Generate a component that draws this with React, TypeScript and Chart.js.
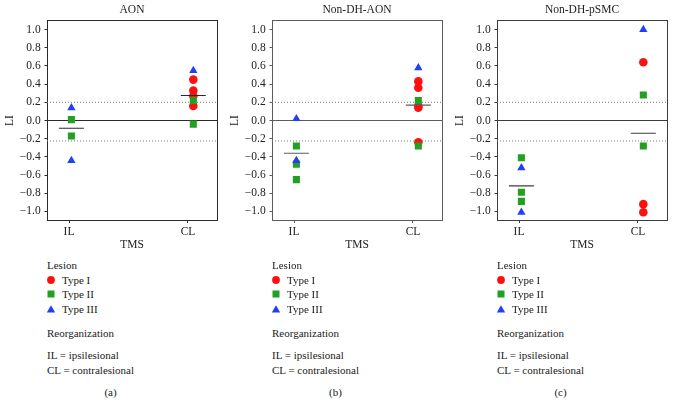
import React, { useEffect, useRef } from "react";
import { Chart, registerables } from "chart.js";

Chart.register(...registerables);

// ---------- data ----------
const panelTitles = ["AON", "Non-DH-AON", "Non-DH-pSMC"];
const panelCaptions = ["(a)", "(b)", "(c)"];
const categories = ["IL", "CL"];
const yTickValues = [-1.0, -0.8, -0.6, -0.4, -0.2, 0.0, 0.2, 0.4, 0.6, 0.8, 1.0];
const yAxisTitle = "LI";
const xAxisTitle = "TMS";
const legendTitle = "Lesion";
const typeLabels = ["Type I", "Type II", "Type III"];
const reorgTitle = "Reorganization";
const abbreviations = ["IL = ipsilesional", "CL = contralesional"];

const zeroLevel = 0;
const thresholdLevels = [0.2, -0.225];

// each: [IL values, CL values]
const aonTypeI: number[][] = [[], [0.45, 0.33, 0.27, 0.16]];
const aonTypeII: number[][] = [[0.01, -0.17], [0.22, -0.04]];
const aonTypeIII: number[][] = [[0.14, -0.44], [0.55]];
const aonMean = [-0.085, 0.275];

const dhAonTypeI: number[][] = [[], [0.43, 0.36, 0.16, 0.14, -0.24]];
const dhAonTypeII: number[][] = [[-0.28, -0.48, -0.65], [0.22, -0.28]];
const dhAonTypeIII: number[][] = [[0.02, -0.44], [0.58]];
const dhAonMean = [-0.36, 0.17];

const pSmcTypeI: number[][] = [[], [0.64, -0.92, -1.01]];
const pSmcTypeII: number[][] = [[-0.41, -0.79, -0.89], [0.28, -0.28]];
const pSmcTypeIII: number[][] = [[-0.52, -1.01], [1.0]];
const pSmcMean = [-0.72, -0.14];

const panelTypes = [
  [aonTypeI, aonTypeII, aonTypeIII],
  [dhAonTypeI, dhAonTypeII, dhAonTypeIII],
  [pSmcTypeI, pSmcTypeII, pSmcTypeIII],
];
const panelMeans = [aonMean, dhAonMean, pSmcMean];

// ---------- styles / layout ----------
const FONT_FAMILY = "'Liberation Serif', 'Times New Roman', serif";
const TEXT = "#222222";
const INK = ["#2a2a2a", "#5c5c5c", "#3c3c3c"];
const TYPE_COLORS = ["#ff1010", "#22a022", "#2040f8"];
const TYPE_STYLES = ["circle", "rect", "triangle"];
const TYPE_RADII = [4.3, 5, 4.8];

const PANEL_LEFT = [0, 225, 450];
const AXIS_W = 47;
const FRAME_W = 170;
const CANVAS_W = AXIS_W * 2 + FRAME_W;
const CANVAS_H = 256;
const CHART_BOTTOM = 220.5;
const X_MIN = -0.185;
const X_MAX = 1.244;
const Y_MIN = -1.1;
const Y_MAX = 1.1;
const CAT_OFFSET = [0.02, 0.045];
const MEAN_HALF = 0.105;

const fmt = (v: number) => (v < 0 ? "\u2212" : "") + Math.abs(v).toFixed(1);

const framePlugin = {
  id: "frame",
  beforeDatasetsDraw(chart: any, _args: any, opts: any) {
    const { ctx, chartArea } = chart;
    const l = Math.floor(chartArea.left) + 0.5;
    const r = Math.floor(chartArea.right) + 0.5;
    const t = Math.floor(chartArea.top) + 0.5;
    const b = Math.floor(chartArea.bottom) + 0.5;
    ctx.save();
    ctx.strokeStyle = opts.color || "#333";
    ctx.lineWidth = 1;
    ctx.strokeRect(l, t, r - l, b - t);
    ctx.restore();
  },
};

function PanelChart({ idx }: { idx: number }) {
  const ref = useRef<HTMLCanvasElement>(null);
  useEffect(() => {
    const ink = INK[idx];
    const font = { family: FONT_FAMILY, size: 11.5, weight: "normal" as const };
    const datasets: any[] = [];
    // mean lines (on top)
    panelMeans[idx].forEach((m, ci) => {
      const cx = ci + CAT_OFFSET[ci];
      datasets.push({
        type: "scatter",
        data: [
          { x: cx - MEAN_HALF, y: m },
          { x: cx + MEAN_HALF, y: m },
        ],
        showLine: true,
        borderColor: ink,
        borderWidth: 1.2,
        pointRadius: 0,
        order: 0,
      });
    });
    // points
    panelTypes[idx].forEach((vals, ti) => {
      const data: any[] = [];
      vals.forEach((list, ci) => {
        list.forEach((v) => data.push({ x: ci + CAT_OFFSET[ci], y: v }));
      });
      datasets.push({
        type: "scatter",
        label: typeLabels[ti],
        data,
        pointStyle: TYPE_STYLES[ti],
        pointRadius: TYPE_RADII[ti],
        pointBackgroundColor: TYPE_COLORS[ti],
        pointBorderColor: TYPE_COLORS[ti],
        pointBorderWidth: 0,
        showLine: false,
        order: 3 - ti,
      });
    });
    // reference lines
    datasets.push({
      type: "scatter",
      data: [
        { x: X_MIN, y: zeroLevel },
        { x: X_MAX, y: zeroLevel },
      ],
      showLine: true,
      borderColor: ink,
      borderWidth: 1.2,
      pointRadius: 0,
      order: 10,
    });
    thresholdLevels.forEach((lv) => {
      datasets.push({
        type: "scatter",
        data: [
          { x: X_MIN, y: lv },
          { x: X_MAX, y: lv },
        ],
        showLine: true,
        borderColor: "#7a7a7a",
        borderWidth: 1,
        borderDash: [1, 2],
        pointRadius: 0,
        order: 11,
      });
    });

    const chart = new Chart(ref.current as HTMLCanvasElement, {
      type: "scatter",
      data: { datasets },
      plugins: [framePlugin],
      options: {
        animation: false,
        responsive: false,
        devicePixelRatio: 1,
        events: [],
        layout: { padding: 0 },
        plugins: {
          legend: { display: false },
          tooltip: { enabled: false },
          title: {
            display: true,
            text: panelTitles[idx],
            font,
            color: TEXT,
            padding: { top: 3.4, bottom: 3.3 },
          },
          // @ts-ignore
          frame: { color: ink },
        },
        scales: {
          x: {
            type: "linear",
            position: "bottom",
            min: X_MIN,
            max: X_MAX,
            afterBuildTicks: (s: any) => {
              s.ticks = categories.map((_, i) => ({ value: i }));
            },
            afterFit: (s: any) => {
              s.height = CANVAS_H - CHART_BOTTOM;
            },
            ticks: {
              callback: (v: any) => categories[Math.round(v)] ?? "",
              font,
              color: TEXT,
              padding: 2,
              maxRotation: 0,
              autoSkip: false,
            },
            grid: {
              display: true,
              drawOnChartArea: false,
              drawTicks: true,
              tickLength: 2.5,
              color: ink,
            },
            border: { display: false },
            title: {
              display: true,
              text: xAxisTitle,
              font,
              color: TEXT,
              padding: { top: 0, bottom: 4.1 },
            },
          },
          y: {
            type: "linear",
            position: "left",
            min: Y_MIN,
            max: Y_MAX,
            afterBuildTicks: (s: any) => {
              s.ticks = yTickValues.map((v) => ({ value: v }));
            },
            afterFit: (s: any) => {
              s.width = AXIS_W;
            },
            ticks: {
              callback: (v: any) => fmt(Number(v)),
              font,
              color: TEXT,
              padding: 3.8,
            },
            grid: {
              display: true,
              drawOnChartArea: false,
              drawTicks: true,
              tickLength: 2.5,
              color: ink,
            },
            border: { display: false },
            title: {
              display: true,
              text: yAxisTitle,
              font,
              color: TEXT,
              padding: { top: 3.1, bottom: 0 },
            },
          },
          yR: {
            type: "linear",
            position: "right",
            min: Y_MIN,
            max: Y_MAX,
            ticks: { display: false },
            grid: { display: false },
            border: { display: false },
            afterFit: (s: any) => {
              s.width = AXIS_W;
            },
          },
        },
      } as any,
    });
    return () => chart.destroy();
  }, [idx]);
  return (
    <canvas
      ref={ref}
      width={CANVAS_W}
      height={CANVAS_H}
      style={{
        position: "absolute",
        left: PANEL_LEFT[idx],
        top: 0,
        width: CANVAS_W,
        height: CANVAS_H,
      }}
    />
  );
}

function Marker({ ti }: { ti: number }) {
  const c = TYPE_COLORS[ti];
  return (
    <svg width={10} height={10} style={{ display: "block" }}>
      {ti === 0 && <circle cx={5} cy={5} r={3.9} fill={c} />}
      {ti === 1 && <rect x={1.5} y={1.5} width={7} height={7} fill={c} />}
      {ti === 2 && <polygon points="0.8,8.6 9.2,8.6 5,1.2" fill={c} />}
    </svg>
  );
}

function PanelLegend({ idx }: { idx: number }) {
  const fl = PANEL_LEFT[idx] + AXIS_W;
  const lh = 14;
  const txt = (content: string, left: number, cy: number, key: string, center = false) => (
    <div
      key={key}
      style={{
        position: "absolute",
        left: center ? left - 30 : left,
        width: center ? 60 : undefined,
        textAlign: center ? "center" : "left",
        top: cy - lh / 2,
        lineHeight: lh + "px",
        fontSize: 11,
        fontFamily: FONT_FAMILY,
        color: TEXT,
        whiteSpace: "nowrap",
      }}
    >
      {content}
    </div>
  );
  const itemY = [279.5, 294, 309];
  return (
    <>
      {txt(legendTitle, fl, 265, "lt")}
      {typeLabels.map((lab, ti) => (
        <React.Fragment key={"t" + ti}>
          <div style={{ position: "absolute", left: fl - 0.7, top: itemY[ti] - 5 }}>
            <Marker ti={ti} />
          </div>
          {txt(lab, fl + 15, itemY[ti], "tl" + ti)}
        </React.Fragment>
      ))}
      {txt(reorgTitle, fl, 332.5, "rt")}
      {txt(abbreviations[0], fl, 354.5, "a0")}
      {txt(abbreviations[1], fl, 370, "a1")}
      {txt(panelCaptions[idx], fl + 63.5, 391.5, "cap", true)}
    </>
  );
}

export default function App() {
  return (
    <div
      style={{
        position: "fixed",
        left: 0,
        top: 0,
        width: 674,
        height: 413,
        overflow: "hidden",
        background: "#ffffff",
      }}
    >
      {[0, 1, 2].map((i) => (
        <PanelChart key={"c" + i} idx={i} />
      ))}
      {[0, 1, 2].map((i) => (
        <PanelLegend key={"l" + i} idx={i} />
      ))}
    </div>
  );
}
